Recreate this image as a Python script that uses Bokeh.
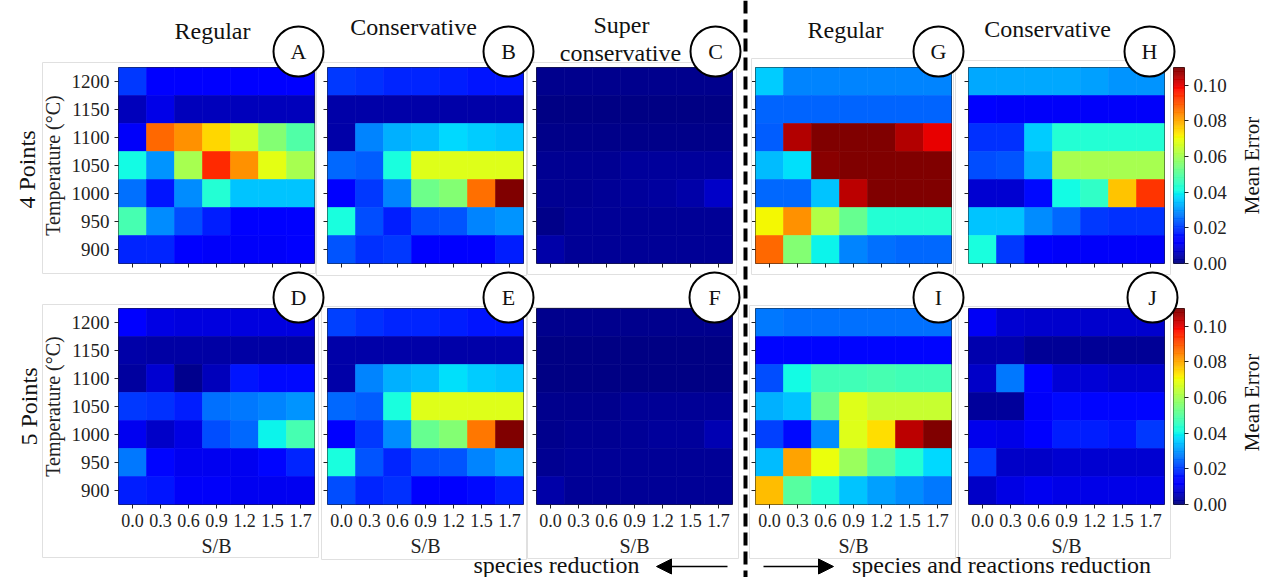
import numpy as np
from bokeh.plotting import figure
from bokeh.models import (ColumnDataSource, LinearColorMapper, FixedTicker, Range1d,
                          Arrow, NormalHead, NumeralTickFormatter)
from bokeh.embed import file_html
from bokeh.resources import INLINE
from bokeh.core.properties import value

# ---------------- data ----------------
sb_labels = ["0.0", "0.3", "0.6", "0.9", "1.2", "1.5", "1.7"]
temp_labels = ["900", "950", "1000", "1050", "1100", "1150", "1200"]
cbar_ticks = [0.00, 0.02, 0.04, 0.06, 0.08, 0.10]
err_max = 0.11

# rows listed from top (1200 C) to bottom (900 C), columns S/B 0.0 .. 1.7
A = [[0.020, 0.014, 0.014, 0.014, 0.014, 0.013, 0.013],
     [0.006, 0.010, 0.006, 0.006, 0.006, 0.006, 0.006],
     [0.012, 0.088, 0.083, 0.075, 0.067, 0.056, 0.049],
     [0.041, 0.030, 0.061, 0.095, 0.083, 0.069, 0.061],
     [0.026, 0.016, 0.029, 0.043, 0.035, 0.035, 0.035],
     [0.048, 0.029, 0.022, 0.017, 0.014, 0.014, 0.014],
     [0.018, 0.018, 0.014, 0.012, 0.012, 0.012, 0.013]]
B = [[0.020, 0.019, 0.018, 0.018, 0.017, 0.016, 0.016],
     [0.004, 0.004, 0.004, 0.004, 0.004, 0.004, 0.004],
     [0.004, 0.028, 0.033, 0.034, 0.037, 0.036, 0.035],
     [0.025, 0.024, 0.042, 0.068, 0.068, 0.068, 0.068],
     [0.014, 0.020, 0.028, 0.053, 0.056, 0.087, 0.115],
     [0.042, 0.022, 0.017, 0.022, 0.023, 0.028, 0.030],
     [0.023, 0.019, 0.020, 0.013, 0.013, 0.014, 0.017]]
C = [[0.0015, 0.0015, 0.0015, 0.0015, 0.0015, 0.0015, 0.0015],
     [0.0008, 0.0008, 0.0008, 0.0008, 0.0008, 0.0008, 0.0008],
     [0.0010, 0.0010, 0.0010, 0.0012, 0.0012, 0.0012, 0.0012],
     [0.0018, 0.0018, 0.0018, 0.0028, 0.0030, 0.0030, 0.0030],
     [0.0018, 0.0020, 0.0022, 0.0030, 0.0032, 0.0040, 0.0070],
     [0.0012, 0.0022, 0.0025, 0.0025, 0.0025, 0.0025, 0.0025],
     [0.0040, 0.0025, 0.0025, 0.0025, 0.0025, 0.0025, 0.0025]]
D = [[0.013, 0.0095, 0.0093, 0.0093, 0.0093, 0.0093, 0.0093],
     [0.004, 0.0036, 0.0036, 0.0036, 0.0036, 0.0036, 0.0036],
     [0.0033, 0.0079, 0.0017, 0.0058, 0.016, 0.015, 0.015],
     [0.020, 0.019, 0.017, 0.026, 0.027, 0.028, 0.030],
     [0.011, 0.0072, 0.0097, 0.022, 0.025, 0.040, 0.048],
     [0.027, 0.0145, 0.011, 0.011, 0.011, 0.0145, 0.018],
     [0.017, 0.016, 0.012, 0.012, 0.011, 0.011, 0.011]]
E = [[0.021, 0.019, 0.018, 0.018, 0.017, 0.016, 0.016],
     [0.004, 0.004, 0.004, 0.004, 0.004, 0.004, 0.004],
     [0.004, 0.028, 0.033, 0.034, 0.038, 0.036, 0.035],
     [0.025, 0.024, 0.042, 0.068, 0.068, 0.068, 0.068],
     [0.014, 0.020, 0.029, 0.052, 0.056, 0.086, 0.115],
     [0.042, 0.023, 0.018, 0.022, 0.023, 0.028, 0.031],
     [0.022, 0.018, 0.019, 0.013, 0.013, 0.015, 0.017]]
F = [[0.0015, 0.0015, 0.0015, 0.0015, 0.0015, 0.0015, 0.0015],
     [0.0008, 0.0008, 0.0008, 0.0008, 0.0008, 0.0008, 0.0008],
     [0.0005, 0.0008, 0.0008, 0.0008, 0.0008, 0.0008, 0.0008],
     [0.0015, 0.0015, 0.0015, 0.0025, 0.0025, 0.0025, 0.0025],
     [0.0015, 0.0018, 0.0020, 0.0025, 0.0028, 0.0030, 0.0050],
     [0.0018, 0.0022, 0.0022, 0.0022, 0.0022, 0.0022, 0.0022],
     [0.0040, 0.0025, 0.0025, 0.0022, 0.0022, 0.0022, 0.0022]]
G = [[0.036, 0.028, 0.028, 0.028, 0.028, 0.028, 0.028],
     [0.0245, 0.0245, 0.0245, 0.0245, 0.0245, 0.0245, 0.0245],
     [0.024, 0.105, 0.115, 0.115, 0.115, 0.105, 0.100],
     [0.034, 0.038, 0.109, 0.115, 0.115, 0.115, 0.115],
     [0.025, 0.025, 0.035, 0.104, 0.115, 0.115, 0.115],
     [0.071, 0.083, 0.062, 0.052, 0.043, 0.043, 0.043],
     [0.088, 0.056, 0.040, 0.028, 0.026, 0.025, 0.025]]
H = [[0.032, 0.032, 0.032, 0.032, 0.031, 0.030, 0.030],
     [0.014, 0.012, 0.012, 0.012, 0.012, 0.012, 0.012],
     [0.019, 0.019, 0.036, 0.043, 0.043, 0.043, 0.043],
     [0.022, 0.023, 0.033, 0.061, 0.061, 0.061, 0.061],
     [0.0078, 0.0078, 0.015, 0.041, 0.045, 0.077, 0.094],
     [0.035, 0.035, 0.029, 0.025, 0.020, 0.019, 0.019],
     [0.042, 0.020, 0.013, 0.012, 0.012, 0.012, 0.012]]
I = [[0.027, 0.026, 0.026, 0.026, 0.026, 0.026, 0.026],
     [0.0145, 0.0145, 0.0145, 0.0145, 0.0145, 0.0145, 0.0145],
     [0.022, 0.041, 0.047, 0.047, 0.048, 0.047, 0.047],
     [0.033, 0.035, 0.053, 0.068, 0.065, 0.065, 0.065],
     [0.021, 0.015, 0.029, 0.068, 0.074, 0.104, 0.115],
     [0.034, 0.081, 0.070, 0.059, 0.050, 0.043, 0.037],
     [0.078, 0.050, 0.043, 0.035, 0.031, 0.029, 0.027]]
J = [[0.0115, 0.0078, 0.0075, 0.0075, 0.0075, 0.0075, 0.0075],
     [0.0045, 0.0045, 0.0024, 0.0024, 0.0024, 0.0024, 0.0024],
     [0.0072, 0.027, 0.013, 0.0083, 0.0083, 0.0075, 0.0075],
     [0.003, 0.003, 0.012, 0.015, 0.0145, 0.0145, 0.0145],
     [0.0107, 0.010, 0.0135, 0.017, 0.017, 0.016, 0.020],
     [0.020, 0.0072, 0.007, 0.008, 0.008, 0.008, 0.008],
     [0.007, 0.0097, 0.011, 0.010, 0.010, 0.010, 0.010]]

col_titles = ["Regular", "Conservative", "Super", "conservative", "Regular", "Conservative"]
row_titles = ["4 Points", "5 Points"]
panel_letters = ["A", "B", "C", "G", "H", "D", "E", "F", "I", "J"]

# ---------------- styling ----------------
FONT = "Liberation Serif"
FW, FH = 196, 196
T, R = 3, 3


def jet(n=256):
    t = np.linspace(0, 1, n)
    r = np.interp(t, [0, 0.35, 0.66, 0.89, 1], [0, 0, 1, 1, 0.5])
    g = np.interp(t, [0, 0.125, 0.375, 0.64, 0.91, 1], [0, 0, 1, 1, 0, 0])
    b = np.interp(t, [0, 0.11, 0.34, 0.65, 1], [0.5, 1, 1, 0, 0])
    return ["#%02x%02x%02x" % (int(round(255 * a)), int(round(255 * c)), int(round(255 * d)))
            for a, c, d in zip(r, g, b)]


mapper = LinearColorMapper(palette=jet(), low=0.0, high=err_max)


def style_axis(ax, size):
    ax.axis_line_color = None
    ax.major_tick_out = 4
    ax.major_tick_in = 0
    ax.minor_tick_line_color = None
    ax.major_tick_line_color = "#222222"
    ax.major_label_text_font = FONT
    ax.major_label_text_font_size = size
    ax.major_label_text_color = "#222222"
    ax.axis_label_text_font = FONT
    ax.axis_label_text_font_size = "20px"
    ax.axis_label_text_font_style = "normal"
    ax.axis_label_text_color = "#222222"


def place(fig, left, top, w, h, z=None):
    st = {"position": "absolute", "left": f"{left}px", "top": f"{top}px",
          "width": f"{w}px", "height": f"{h}px"}
    if z is not None:
        st["z-index"] = str(z)
    fig.styles = st


def panel(vals, show_x, show_y):
    L = 80 if show_y else 14
    Bm = 64 if show_x else 12
    w, h = L + FW + R, T + FH + Bm
    p = figure(width=w, height=h,
               x_range=Range1d(-0.5, 6.5), y_range=Range1d(-0.5, 6.5),
               output_backend="svg", toolbar_location=None,
               min_border_left=L, min_border_right=R, min_border_top=T, min_border_bottom=Bm)
    xs, ys, vs = [], [], []
    n = len(vals)
    for r, row in enumerate(vals):
        for c, v in enumerate(row):
            xs.append(c)
            ys.append(n - 1 - r)
            vs.append(v)
    src = ColumnDataSource(dict(x=xs, y=ys, v=vs))
    p.rect("x", "y", 1, 1, source=src,
           fill_color={"field": "v", "transform": mapper},
           line_color={"field": "v", "transform": mapper}, line_width=0.6)
    p.grid.visible = False
    p.outline_line_color = "#222222"
    p.outline_line_width = 1
    p.border_fill_color = None
    p.background_fill_color = None
    p.xaxis.ticker = FixedTicker(ticks=list(range(len(sb_labels))))
    p.yaxis.ticker = FixedTicker(ticks=list(range(len(temp_labels))))
    p.xaxis.major_label_overrides = {i: (lab if show_x else "") for i, lab in enumerate(sb_labels)}
    p.yaxis.major_label_overrides = {i: (lab if show_y else "") for i, lab in enumerate(temp_labels)}
    style_axis(p.xaxis[0], "18px")
    style_axis(p.yaxis[0], "19px")
    if show_x:
        p.xaxis.axis_label = "S/B"
    if show_y:
        p.yaxis.axis_label = "Temperature (°C)"
    return p, L, w, h


def colorbar():
    Rb, Bm = 50, 12
    w, h = 11 + Rb, T + FH + Bm
    cb = figure(width=w, height=h, x_range=Range1d(0, 1), y_range=Range1d(0, err_max),
                output_backend="svg", toolbar_location=None, x_axis_location=None, y_axis_location="right",
                min_border_left=0, min_border_right=Rb, min_border_top=T, min_border_bottom=Bm)
    lev = np.linspace(0, err_max, 221)
    src = ColumnDataSource(dict(b=lev[:-1], t=lev[1:], m=(lev[:-1] + lev[1:]) / 2))
    cb.quad(left=0, right=1, bottom="b", top="t", source=src,
            fill_color={"field": "m", "transform": mapper},
            line_color={"field": "m", "transform": mapper}, line_width=0.5)
    cb.grid.visible = False
    cb.outline_line_color = "#222222"
    cb.border_fill_color = None
    cb.background_fill_color = None
    cb.yaxis.ticker = FixedTicker(ticks=cbar_ticks)
    cb.yaxis.formatter = NumeralTickFormatter(format="0.00")
    style_axis(cb.yaxis[0], "19px")
    return cb, w, h


col_x = [118, 327, 536, 755, 968]
row_y = [67, 308]
panels_data = [[A, B, C, G, H], [D, E, F, I, J]]

roots = []
for ri, row in enumerate(panels_data):
    for ci, vals in enumerate(row):
        p, L, w, h = panel(vals, show_x=(ri == 1), show_y=(ci == 0))
        place(p, col_x[ci] - L, row_y[ri] - T, w, h)
        roots.append(p)
    cb, w, h = colorbar()
    place(cb, 1173, row_y[ri] - T, w, h)
    roots.append(cb)

# ---------------- overlay with decorations (page pixel coordinates) ----------------
OW, OH = 1263, 577
ov = figure(width=OW, height=OH, x_range=Range1d(0, OW), y_range=Range1d(OH, 0),
            output_backend="svg", toolbar_location=None, min_border=0,
            min_border_left=0, min_border_right=0, min_border_top=0, min_border_bottom=0,
            x_axis_location=None, y_axis_location=None, title=None)
ov.outline_line_color = None
ov.background_fill_color = None
ov.border_fill_color = None
ov.grid.visible = False

frames_l = [42, 316, 527, 751, 955, 42, 321, 527, 749, 958]
frames_r = [315, 526, 736, 953, 1170, 318, 526, 738, 955, 1170]
frames_t = [62, 62, 62, 58, 60, 304, 306, 307, 305, 306]
frames_b = [273, 275, 274, 274, 274, 557, 559, 558, 558, 558]
ov.quad(left=frames_l, right=frames_r, top=frames_t, bottom=frames_b,
        fill_color=None, line_color="#e0e0e0", line_width=1)

ov.line(x=[745, 745], y=[0, OH], line_color="black", line_width=4, line_dash="13 6")

circ_x = [298, 508, 715, 938, 1149, 298, 508, 714, 938, 1152]
circ_y = [51, 51, 51, 51, 51, 297, 297, 297, 297, 297]
ov.scatter(x=circ_x, y=circ_y, size=50, fill_color="white", line_color="black", line_width=2)
ov.text(x=circ_x, y=circ_y, text=panel_letters, text_align="center", text_baseline="middle",
        text_font=value(FONT), text_font_size="22px", text_color="#111111")

ov.text(x=[212, 413, 621, 620, 845, 1047], y=[30, 26, 24, 52, 29, 28], text=col_titles,
        text_align="center", text_baseline="alphabetic",
        text_font=value(FONT), text_font_size="24px", text_color="#111111")

ov.text(x=[26, 28], y=[169, 406], text=row_titles, angle=np.pi / 2,
        text_align="center", text_baseline="middle",
        text_font=value(FONT), text_font_size="24px", text_color="#111111")

ov.text(x=[1251, 1251], y=[165, 402], text=["Mean Error", "Mean Error"], angle=np.pi / 2,
        text_align="center", text_baseline="middle",
        text_font=value(FONT), text_font_size="21px", text_color="#111111")

ov.text(x=[556, 1001], y=[564, 564], text=["species reduction", "species and reactions reduction"],
        text_align="center", text_baseline="alphabetic",
        text_font=value(FONT), text_font_size="24px", text_color="#111111")

ov.add_layout(Arrow(end=NormalHead(size=15, fill_color="black", line_color="black"),
                    x_start=727, y_start=566, x_end=656, y_end=566,
                    line_width=1.5, line_color="black"))
ov.add_layout(Arrow(end=NormalHead(size=15, fill_color="black", line_color="black"),
                    x_start=763, y_start=566, x_end=833, y_end=566,
                    line_width=1.5, line_color="black"))

place(ov, 0, 0, OW, OH, z=10)
roots.append(ov)

open("out.html", "w").write(file_html(roots, INLINE))
